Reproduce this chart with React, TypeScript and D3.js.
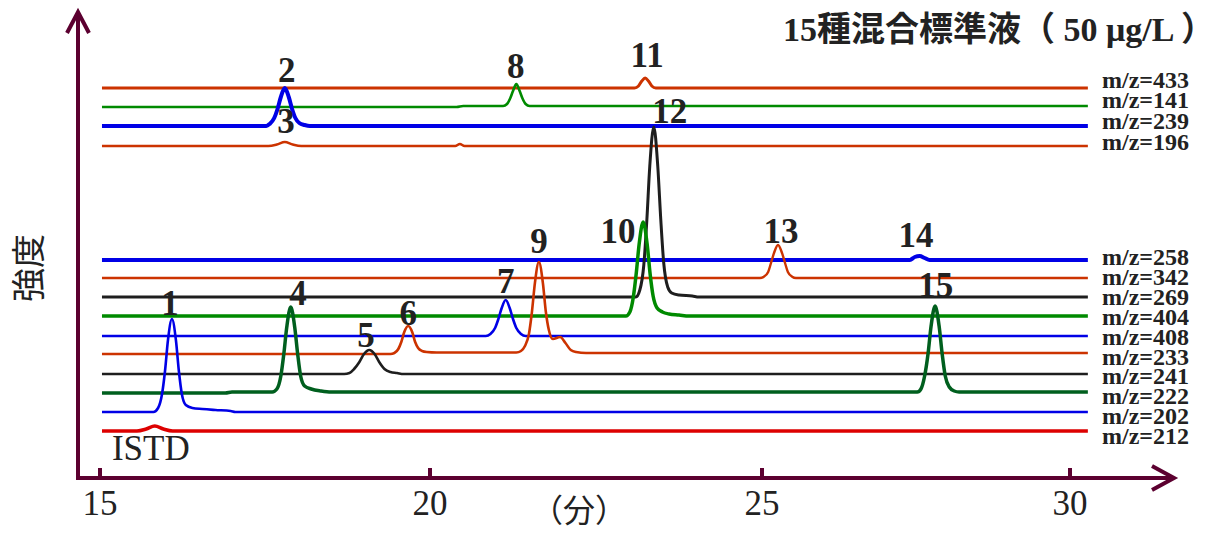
import React from "react";
import * as d3 from "d3";

const W = 1219;
const H = 534;

// ---- data ----
const xTicks = [15, 20, 25, 30];
const xTickLabels = ["15", "20", "25", "30"];
const titleText = "15種混合標準液（ 50 μg/L ）";
const xAxisTitle = "（分）";
const yAxisTitle = "強度";

const mzValues = ["433", "141", "239", "196", "258", "342", "269", "404", "408", "233", "241", "222", "202", "212"];
// vertical offset (intensity units) of each trace baseline
const baselines = [390, 371, 352, 332, 218, 200, 181, 162, 142, 124, 104, 85, 66, 47];

// [time (min), intensity above baseline]
const trace433 = [[15.03, 0], [23.08, 0], [23.14, 2], [23.19, 7], [23.24, 10], [23.29, 7], [23.34, 2], [23.4, 0], [30.29, 0]];
const trace141 = [[15.03, 0], [20.4, 0], [20.5, 1], [21.1, 1], [21.16, 3], [21.21, 9], [21.25, 16], [21.3, 23], [21.35, 16], [21.39, 9], [21.44, 3], [21.5, 1], [30.29, 1]];
const trace239 = [[15.03, 0], [17.52, 0], [17.57, 2], [17.64, 8], [17.69, 17], [17.74, 29], [17.8, 38], [17.86, 29], [17.91, 17], [17.96, 8], [18.02, 3], [18.1, 1], [18.18, 0], [30.29, 0]];
const trace196 = [[15.03, 0], [17.55, 0], [17.68, 1.5], [17.8, 4], [17.92, 1.5], [18.05, 0], [20.38, 0], [20.45, 2], [20.52, 0], [30.29, 0]];
const trace258 = [[15.03, 0], [27.4, 0], [27.48, 3], [27.56, 4], [27.64, 2], [27.72, 0], [30.29, 0]];
const trace342 = [[15.03, 0], [24.97, 0], [25.03, 1.3], [25.1, 6], [25.146, 15], [25.195, 25], [25.26, 33], [25.325, 25], [25.374, 15], [25.42, 6], [25.49, 1.3], [25.55, 0], [30.29, 0]];
const trace269 = [[15.03, 0], [23.1, 0], [23.16, 7], [23.22, 32], [23.265, 76], [23.31, 131], [23.37, 170], [23.43, 131], [23.475, 78], [23.52, 34], [23.58, 10], [23.64, 4], [23.75, 2], [23.95, 1], [24.05, 0], [30.29, 0]];
const trace404 = [[15.03, 0], [22.95, 0], [23.01, 4], [23.06, 18], [23.105, 42], [23.15, 72], [23.21, 94], [23.27, 72], [23.315, 42], [23.36, 20], [23.42, 8], [23.5, 4], [23.6, 2], [23.75, 1], [23.9, 0], [30.29, 0]];
const trace408 = [[15.03, 0], [20.84, 0], [20.91, 2], [20.98, 8], [21.03, 17], [21.08, 28], [21.14, 36], [21.2, 28], [21.25, 17], [21.3, 8], [21.37, 2], [21.44, 0], [30.29, 0]];
const trace233 = [[15.03, 0], [19.4, 0], [19.46, 1], [19.52, 5], [19.565, 12], [19.61, 22], [19.67, 28], [19.73, 22], [19.775, 12], [19.82, 6], [19.88, 3], [19.95, 2], [20.1, 1.5], [21.3, 1.5], [21.37, 3], [21.43, 8], [21.49, 20], [21.535, 42], [21.58, 71], [21.64, 92], [21.7, 71], [21.745, 42], [21.79, 24], [21.85, 15], [21.96, 17], [22.04, 11], [22.12, 4], [22.2, 2], [22.35, 1], [30.29, 1]];
const trace241 = [[15.03, 0], [18.7, 0], [18.78, 1], [18.85, 5], [18.93, 12], [19.0, 20], [19.08, 24], [19.16, 20], [19.23, 12], [19.31, 5], [19.4, 2], [19.5, 1], [19.6, 0], [30.29, 0]];
const trace222 = [[15.03, 0], [16.9, 0], [17.0, 1], [17.61, 1], [17.68, 4], [17.74, 17], [17.785, 39], [17.83, 66], [17.89, 86], [17.95, 66], [17.995, 39], [18.04, 17], [18.1, 7], [18.2, 4], [18.35, 2], [18.5, 1], [27.52, 1], [27.58, 4], [27.64, 17], [27.695, 39], [27.745, 67], [27.81, 87], [27.875, 67], [27.925, 39], [27.975, 17], [28.04, 6], [28.12, 2], [28.2, 1], [30.29, 1]];
const trace202 = [[15.03, 0], [15.81, 0], [15.88, 4], [15.94, 18], [15.985, 41], [16.03, 72], [16.09, 93], [16.15, 72], [16.195, 41], [16.24, 18], [16.3, 7], [16.4, 4], [16.55, 3], [16.75, 2], [16.98, 1], [17.05, 0], [30.29, 0]];
const trace212 = [[15.03, 0], [15.56, 0], [15.7, 2], [15.83, 5], [15.96, 2], [16.1, 0], [30.29, 0]];

const traces = [trace433, trace141, trace239, trace196, trace258, trace342, trace269, trace404, trace408, trace233, trace241, trace222, trace202, trace212];

// peak annotations: label, time, intensity of label baseline
const peakNames = ["1", "2", "3", "4", "5", "6", "7", "8", "9", "10", "11", "12", "13", "14", "15"];
const peakLabelTimes = [16.06, 17.83, 17.82, 18.0, 19.03, 19.67, 21.14, 21.29, 21.64, 22.83, 23.27, 23.61, 25.31, 27.5, 27.82];
const peakLabelLevels = [163, 396, 345, 173, 131, 153, 185, 400, 225, 235, 411, 355, 235, 231, 181];
const istdLabel = "ISTD";
const istdTime = 15.18;
const istdLevel = 18;

// ---- styles ----
const traceColors = ["#cc3300", "#008a00", "#0000e6", "#cc3300", "#0000e6", "#cc3300", "#1e1e1e", "#008a00", "#0000e6", "#cc3300", "#1e1e1e", "#005f1e", "#0000e6", "#dd0000"];
const traceWidths = [3, 2.6, 4, 2.5, 4, 2.4, 3, 3.5, 2.6, 2.6, 2.6, 3.5, 2.6, 3.5];
const axisColor = "#5c0030";
const textColor = "#222";
const serif = "'Liberation Serif', 'Times New Roman', serif";
const cjk = "'Noto Sans CJK JP', 'Noto Sans CJK SC', sans-serif";

export default function App() {
  const x = d3.scaleLinear().domain([15, 20, 25, 30]).range([100, 430, 762, 1070]);
  const y = d3.scaleLinear().domain([0, 466]).range([478, 12]);

  const line = d3
    .line<number[]>()
    .x((d) => x(d[0]))
    .y((d) => d[1])
    .curve(d3.curveMonotoneX);

  const axisX = 78;
  const axisY = y(0);
  const xEnd = 1174;
  const yTop = y(466);

  return (
    <svg
      width={W}
      height={H}
      viewBox={`0 0 ${W} ${H}`}
      style={{ position: "absolute", left: 0, top: 0, background: "#fff" }}
    >
      {/* traces */}
      {traces.map((tr, i) => {
        const pts = tr.map((p) => [p[0], y(baselines[i] + p[1])]);
        return (
          <path
            key={i}
            d={line(pts) || ""}
            fill="none"
            stroke={traceColors[i]}
            strokeWidth={traceWidths[i]}
            strokeLinejoin="round"
            strokeLinecap="butt"
          />
        );
      })}

      {/* axes */}
      <g stroke={axisColor} strokeWidth={4} fill="none" strokeLinecap="butt">
        <line x1={axisX} y1={axisY + 2} x2={axisX} y2={yTop + 2} />
        <polyline points={`${axisX - 11},${yTop + 21} ${axisX},${yTop} ${axisX + 11},${yTop + 21}`} strokeLinejoin="miter" />
        <line x1={axisX - 2} y1={axisY} x2={xEnd - 2} y2={axisY} />
        <polyline points={`${xEnd - 22},${axisY - 12} ${xEnd},${axisY} ${xEnd - 22},${axisY + 12}`} strokeLinejoin="miter" />
        {xTicks.map((t) => (
          <line key={t} x1={x(t)} x2={x(t)} y1={axisY} y2={axisY - 10} />
        ))}
      </g>

      {/* tick labels */}
      {xTicks.map((t, i) => (
        <text
          key={t}
          x={x(t)}
          y={axisY + 37}
          textAnchor="middle"
          fontFamily={serif}
          fontSize={35}
          fill={textColor}
        >
          {xTickLabels[i]}
        </text>
      ))}

      {/* axis titles */}
      <text x={579} y={522} textAnchor="middle" fontFamily={cjk} fontSize={32} fill={textColor}>
        {xAxisTitle}
      </text>
      <text
        transform={`translate(41, 268) rotate(-90)`}
        textAnchor="middle"
        fontFamily={cjk}
        fontSize={34}
        fill={textColor}
      >
        {yAxisTitle}
      </text>

      {/* title */}
      <text x={1215} y={41} textAnchor="end" fontFamily={`${serif}, ${cjk}`} fontWeight="bold" fontSize={34} fill={textColor}>
        {titleText}
      </text>

      {/* m/z labels */}
      {mzValues.map((m, i) => {
        const ly = i < 4 ? 87.5 + i * 20.7 : 265 + (i - 4) * 19.9;
        return (
          <text key={m + i} x={1102} y={ly} fontFamily={serif} fontWeight="bold" fontSize={24} fill={textColor}>
            {`m/z=${m}`}
          </text>
        );
      })}

      {/* peak labels */}
      {peakNames.map((n, i) => (
        <text
          key={n}
          x={x(peakLabelTimes[i])}
          y={y(peakLabelLevels[i])}
          textAnchor="middle"
          fontFamily={serif}
          fontWeight="bold"
          fontSize={35}
          fill={textColor}
        >
          {n}
        </text>
      ))}
      <text x={x(istdTime)} y={y(istdLevel)} fontFamily={serif} fontSize={35} fill={textColor}>
        {istdLabel}
      </text>
    </svg>
  );
}
